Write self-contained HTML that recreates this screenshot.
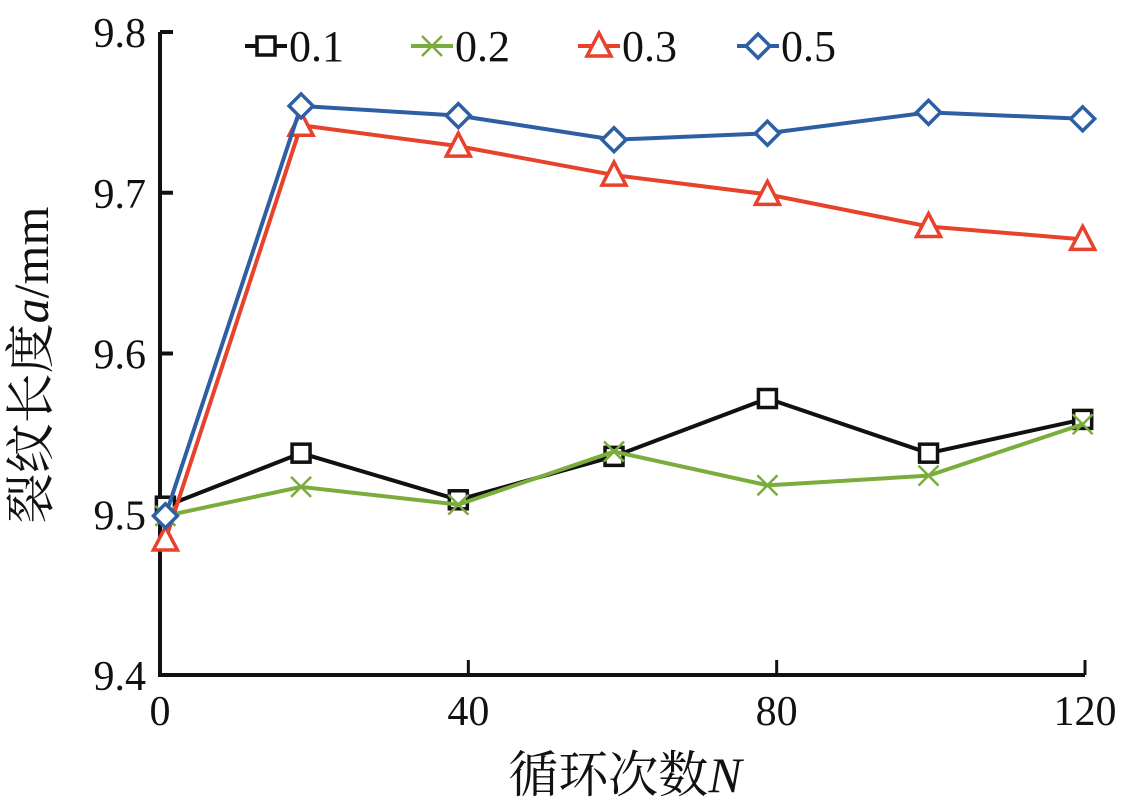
<!DOCTYPE html>
<html><head><meta charset="utf-8"><style>
body{margin:0;background:#fff;}
text{font-family:"Liberation Serif","Times New Roman","Noto Serif CJK SC",serif !important;fill:#111;}
</style></head><body>
<svg id="chart" width="1127" height="805" viewBox="0 0 1127 805" font-family="'Liberation Serif','Noto Serif CJK SC',serif"></svg>
<script>
const xs=[0.7,18.3,38.7,58.9,78.8,99.7,119.7];
const s01=[9.505,9.538,9.509,9.536,9.572,9.538,9.559];
const s02=[9.499,9.517,9.506,9.539,9.518,9.524,9.556];
const s03=[9.484,9.742,9.729,9.711,9.699,9.679,9.671];
const s05=[9.499,9.754,9.748,9.733,9.737,9.750,9.746];
const xTicks=[0,40,80,120];
const yTicks=[9.4,9.5,9.6,9.7,9.8];
const seriesNames=['0.1','0.2','0.3','0.5'];
const NS='http://www.w3.org/2000/svg';
const svg=document.getElementById('chart');
const X0=160,X1=1085,Y0=675,Y1=32;
const xS=v=>X0+(v-0)/120*(X1-X0);
const yS=v=>Y0-(v-9.4)/0.4*(Y0-Y1);
function mk(t,a,p){const e=document.createElementNS(NS,t);for(const k in a)e.setAttribute(k,a[k]);(p||svg).appendChild(e);return e;}
let ax=mk('path',{d:`M${X0},${Y1} V${Y0} H${X1}`,stroke:'#111','stroke-width':4,fill:'none'});


yTicks.forEach(v=>{
  let t=mk('line',{x1:X0,x2:X0+13,y1:yS(v),y2:yS(v),stroke:'#111','stroke-width':4});
  
  
  let l=mk('text',{x:X0-14,y:yS(v)+15,'text-anchor':'end','font-size':42});
  l.textContent=v.toFixed(1);
  
  
});
xTicks.forEach(v=>{
  let t=mk('line',{x1:xS(v),x2:xS(v),y1:Y0,y2:Y0-15,stroke:'#111','stroke-width':3});
  
  
  let l=mk('text',{x:xS(v),y:Y0+50,'text-anchor':'middle','font-size':42});
  l.textContent=v;
  
  
});
let xt=mk('text',{x:625,y:792,'text-anchor':'middle','font-size':50});
xt.innerHTML='循环次数<tspan font-style="italic">N</tspan>';


let yt=mk('text',{x:0,y:0,'text-anchor':'middle','font-size':50,transform:'translate(48,365) rotate(-90)'});
yt.innerHTML='裂纹长度<tspan font-style="italic">a</tspan>/mm';


function marker(type,x,y,c,g){
  if(type==='sq')return mk('rect',{x:x-9,y:y-9,width:18,height:18,fill:'#fff',stroke:c,'stroke-width':3.5},g);
  if(type==='x')return mk('path',{d:`M${x-10},${y-10}L${x+10},${y+10}M${x-10},${y+10}L${x+10},${y-10}`,stroke:c,'stroke-width':2.5,fill:'none'},g);
  if(type==='tri')return mk('path',{d:`M${x},${y-13}L${x+12},${y+10}L${x-12},${y+10}Z`,fill:'#fff',stroke:c,'stroke-width':3.5},g);
  return mk('path',{d:`M${x},${y-12}L${x+12},${y}L${x},${y+12}L${x-12},${y}Z`,fill:'#fff',stroke:c,'stroke-width':3.5},g);
}
const defs=[[s01,'#111','sq'],[s02,'#7aad3c','x'],[s03,'#e8412c','tri'],[s05,'#2e5fa3','dia']];
defs.forEach(([d,c,m],i)=>{
  const g=mk('g',{});
  
  
  mk('polyline',{points:d.map((v,j)=>xS(xs[j])+','+yS(v)).join(' '),fill:'none',stroke:c,'stroke-width':4},g);
  d.forEach((v,j)=>{const e=marker(m,xS(xs[j]),yS(v),c,g);
    
    });
  const lx=[245,411,578,737][i];
  const lg=mk('g',{});
  
  
  mk('line',{x1:lx,x2:lx+42,y1:46,y2:46,stroke:c,'stroke-width':4},lg);
  marker(m,lx+21,46,c,lg);
  const t=mk('text',{x:lx+44,y:61,'font-size':44},lg);t.textContent=seriesNames[i];
});
</script>
</body></html>
